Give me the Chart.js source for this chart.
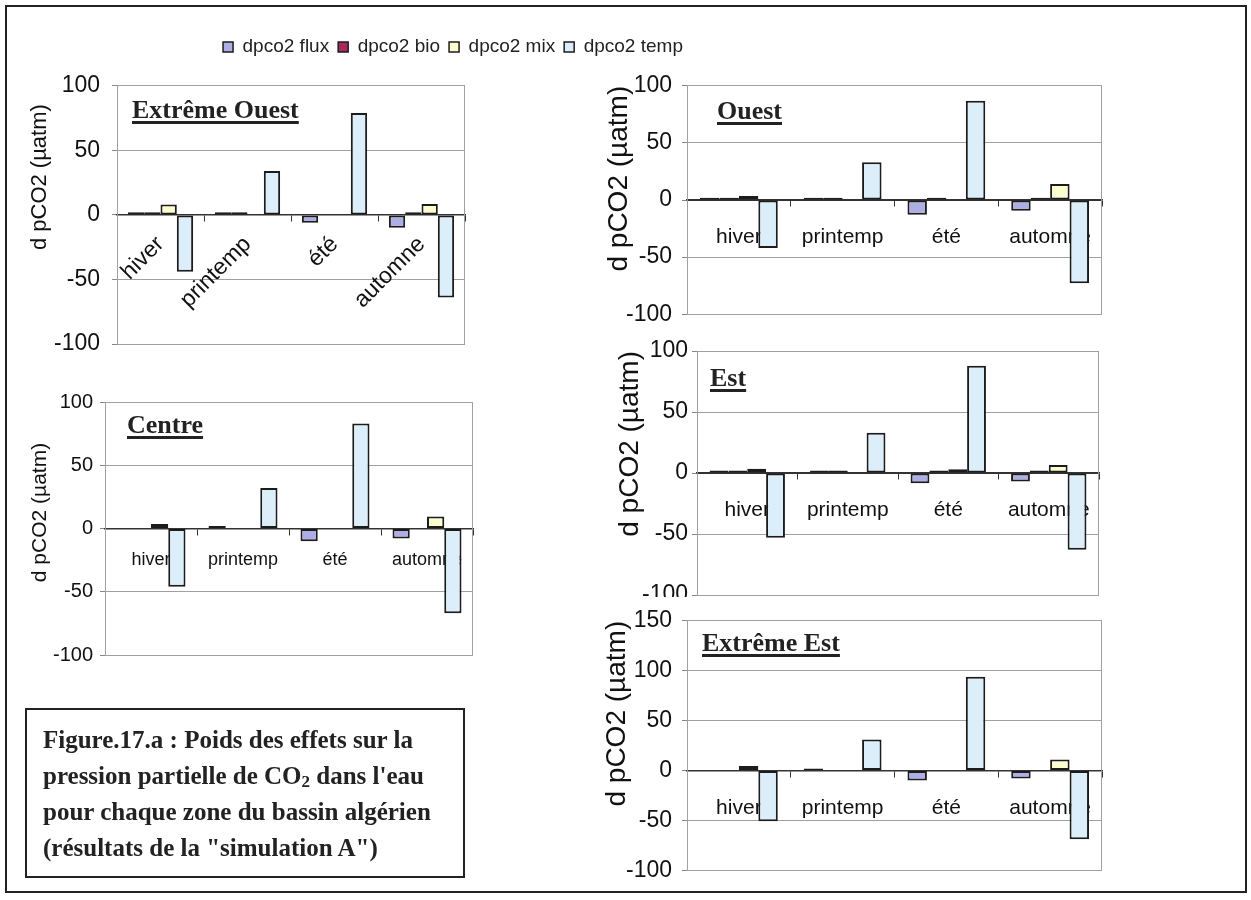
<!DOCTYPE html>
<html><head><meta charset="utf-8">
<script src="https://cdn.jsdelivr.net/npm/chart.js@4.4.1/dist/chart.umd.min.js"></script>
<style>
html,body{margin:0;padding:0;background:#fff;}
body{width:1251px;height:900px;position:relative;overflow:hidden;font-family:"Liberation Sans",Arial,sans-serif;}
canvas{position:absolute;}
.frame{position:absolute;left:5px;top:5px;width:1238px;height:884px;border:2px solid #222;}
.ttl{position:absolute;font-family:"Liberation Serif","Times New Roman",serif;font-weight:bold;font-size:26px;line-height:30px;color:#222;text-decoration:underline;text-decoration-thickness:3px;text-underline-offset:3px;white-space:nowrap;}
.caption{position:absolute;left:25px;top:708px;width:436px;height:166px;border:2px solid #222;box-sizing:content-box;font-family:"Liberation Serif","Times New Roman",serif;font-weight:bold;font-size:25px;line-height:36px;color:#222;}
.caption div{position:absolute;left:16px;top:12px;white-space:nowrap;}
.caption sub{font-size:17px;vertical-align:-3px;line-height:0;}
</style></head>
<body>
<canvas id="cLegend" width="906" height="200" style="left:0;top:0"></canvas>
<canvas id="c1" width="600" height="312" style="left:0;top:60px"></canvas>
<canvas id="c2" width="640" height="276" style="left:600px;top:62px"></canvas>
<canvas id="c3" width="600" height="300" style="left:0;top:380px"></canvas>
<canvas id="c4" width="640" height="290" style="left:600px;top:330px"></canvas>
<canvas id="c5" width="640" height="297" style="left:600px;top:597px;background:#fff"></canvas>
<div class="frame"></div>
<div class="ttl" style="left:132px;top:95px">Extrême Ouest</div>
<div class="ttl" style="left:717px;top:96px">Ouest</div>
<div class="ttl" style="left:127px;top:410px">Centre</div>
<div class="ttl" style="left:710px;top:363px">Est</div>
<div class="ttl" style="left:702px;top:628px">Extrême Est</div>
<div class="caption"><div>Figure.17.a : Poids des effets sur la<br>pression partielle de CO<sub>2</sub> dans l'eau<br>pour chaque zone du bassin algérien<br>(résultats de la "simulation A")</div></div>
<script>
const seasons = ['hiver', 'printemp', 'été', 'automne'];
const seriesNames = ['dpco2 flux', 'dpco2 bio', 'dpco2 mix', 'dpco2 temp'];
const yTitle = 'd pCO2 (µatm)';

const extremeOuestFlux = [2, 2, -6, -10];
const extremeOuestBio  = [2, 2, 0, 2];
const extremeOuestMix  = [8, 0, 0, 8.5];
const extremeOuestTemp = [-44, 34, 79, -64];

const ouestFlux = [2, 2, -13, -9.5];
const ouestBio  = [2, 2, 2, 2];
const ouestMix  = [3.5, 0, 0, 14];
const ouestTemp = [-42, 33, 87, -73];

const centreFlux = [0, 2, -10, -8];
const centreBio  = [0, 0, 0, 0];
const centreMix  = [3.5, 0, 0, 9.5];
const centreTemp = [-46, 32, 83, -67];

const estFlux = [2, 2, -8.5, -7];
const estBio  = [2, 2, 2, 2];
const estMix  = [3.5, 0, 3, 6.5];
const estTemp = [-53, 33, 88, -63];

const extremeEstFlux = [0, 2, -10, -8];
const extremeEstBio  = [0, 0, 0, 0];
const extremeEstMix  = [4.5, 0, 0, 11];
const extremeEstTemp = [-51, 31, 94, -69];

const yTicks100 = [-100, -50, 0, 50, 100];
const yTicks150 = [-100, -50, 0, 50, 100, 150];

const seriesColors = ['#adaee3', '#a8295c', '#fdfdd0', '#dbeef9'];
const FONT = '"Liberation Sans", Arial, sans-serif';
Chart.defaults.font.family = FONT;
Chart.defaults.color = '#111';

const plotFrame = {
  id: 'plotFrame',
  beforeDatasetsDraw(chart) {
    const {ctx, chartArea: a} = chart;
    ctx.save();
    ctx.strokeStyle = '#a0a0a0';
    ctx.lineWidth = 1;
    ctx.beginPath();
    ctx.moveTo(Math.round(a.right) - 0.5, a.top);
    ctx.lineTo(Math.round(a.right) - 0.5, a.bottom);
    ctx.stroke();
    ctx.restore();
  }
};

function makeChart(id, s) {
  const ticks = s.ticks;
  new Chart(document.getElementById(id), {
    type: 'bar',
    data: {
      labels: seasons,
      datasets: s.series.map((vals, i) => ({
        label: seriesNames[i], data: vals,
        backgroundColor: seriesColors[i], borderColor: '#1c1c1c', borderWidth: 2,
        borderSkipped: false, inflateAmount: 0,
        categoryPercentage: 0.75, barPercentage: 1
      }))
    },
    options: {
      responsive: false, animation: false,
      layout: {padding: s.pad},
      plugins: {legend: {display: false}, tooltip: {enabled: false}},
      scales: {
        x: {
          position: {y: 0},
          offset: true,
          grid: {offset: true, drawOnChartArea: false, drawTicks: true, tickLength: 6, color: '#333', lineWidth: 1},
          border: {display: true, color: '#333', width: 1.5},
          ticks: {autoSkip: false, minRotation: s.rot, maxRotation: s.rot, padding: s.xPad,
                  color: '#111', font: {size: s.xFont}}
        },
        y: {
          min: ticks[0], max: ticks[ticks.length - 1],
          ticks: {stepSize: ticks[1] - ticks[0], padding: s.yPad, color: '#111', font: {size: s.yFont}},
          grid: {color: c => (c.tick && c.tick.value === 0) ? '#333' : '#a0a0a0', tickLength: 5, drawTicks: true, tickColor: '#888'},
          border: {color: '#a0a0a0'},
          title: {display: true, text: yTitle + ' '.repeat(s.tSpace), color: '#111', align: 'end',
                  font: {size: s.tFont}, padding: {top: s.tPad, bottom: 0}},
          afterFit(scale) { scale.width = s.yWidth; }
        }
      }
    },
    plugins: [plotFrame]
  });
}

// legend
new Chart(document.getElementById('cLegend'), {
  type: 'bar',
  data: {labels: [], datasets: seriesNames.map((n, i) => ({label: n, data: [], backgroundColor: seriesColors[i], borderColor: '#1c1c1c', borderWidth: 1.5}))},
  options: {
    responsive: false, animation: false,
    layout: {padding: {top: 28.5}},
    scales: {x: {display: false}, y: {display: false}},
    plugins: {tooltip: {enabled: false},
      legend: {display: true, labels: {boxWidth: 10, boxHeight: 10, padding: 9, color: '#222', font: {size: 19}}}}
  }
});

makeChart('c1', {series: [extremeOuestFlux, extremeOuestBio, extremeOuestMix, extremeOuestTemp], ticks: yTicks100,
  pad: {left: 10, top: 20, right: 135, bottom: 28}, yWidth: 107, yPad: 12, yFont: 23,
  tFont: 22, tPad: 17, tSpace: 3, rot: 45, xPad: 10, xFont: 23});
makeChart('c2', {series: [ouestFlux, ouestBio, ouestMix, ouestTemp], ticks: yTicks100,
  pad: {left: 2, top: 21, right: 138, bottom: 19}, yWidth: 85, yPad: 10, yFont: 23,
  tFont: 28, tPad: 0, tSpace: 0, rot: 0, xPad: 19, xFont: 21});
makeChart('c3', {series: [centreFlux, centreBio, centreMix, centreTemp], ticks: yTicks100,
  pad: {left: 10, top: 22, right: 127, bottom: 25}, yWidth: 95, yPad: 7, yFont: 20,
  tFont: 21, tPad: 18, tSpace: 7, rot: 0, xPad: 15, xFont: 18});
makeChart('c4', {series: [estFlux, estBio, estMix, estTemp], ticks: yTicks100,
  pad: {left: 2, top: 21, right: 141, bottom: 25}, yWidth: 95, yPad: 4, yFont: 23,
  tFont: 28, tPad: 11, tSpace: 0, rot: 0, xPad: 19, xFont: 21});
makeChart('c5', {series: [extremeEstFlux, extremeEstBio, extremeEstMix, extremeEstTemp], ticks: yTicks150,
  pad: {left: 0, top: 20, right: 138, bottom: 18}, yWidth: 87, yPad: 10, yFont: 23,
  tFont: 28, tPad: 0, tSpace: 0, rot: 0, xPad: 19, xFont: 21});
</script>
</body></html>
